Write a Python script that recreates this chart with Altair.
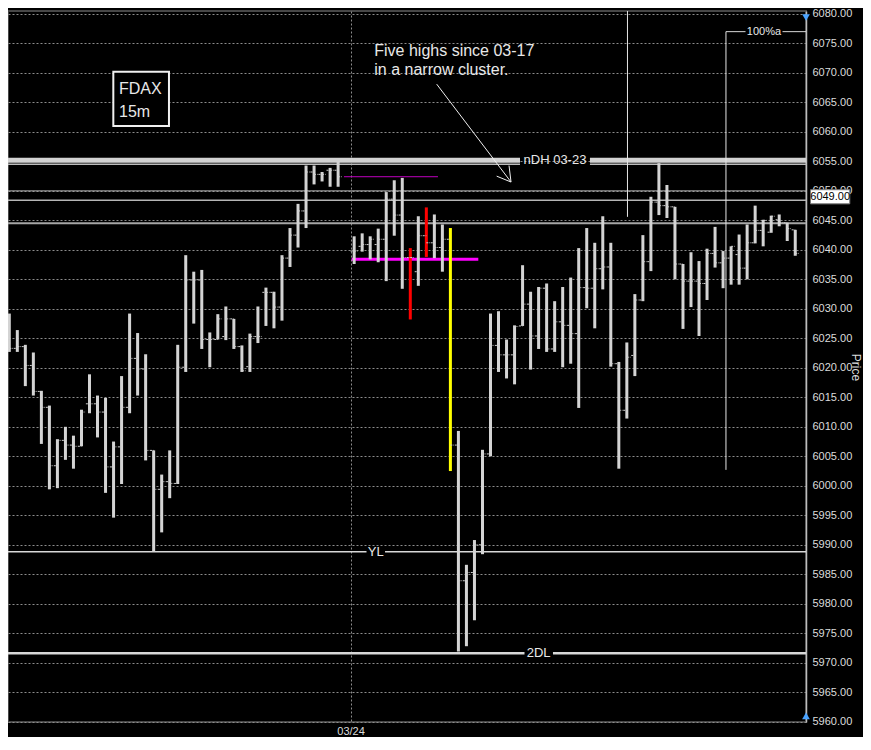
import altair as alt
import pandas as pd

# ---------------- data ----------------
bar_index = [0, 1, 2, 3, 4, 5, 6, 7, 8, 9, 10, 11, 12, 13, 14, 15, 16, 17, 18, 19,
             20, 21, 22, 23, 24, 25, 26, 27, 28, 29, 30, 31, 32, 33, 34, 35, 36, 37, 38, 39,
             40, 41, 43, 44, 45, 46, 47, 48, 49, 50, 51, 52, 53, 54, 55, 56, 57, 58, 59,
             60, 61, 62, 63, 64, 65, 66, 67, 68, 69, 70, 71, 72, 73, 74, 75, 76, 77, 78, 79,
             80, 81, 82, 83, 84, 85, 86, 87, 88, 89, 90, 91, 92, 93, 94, 95, 96, 97, 98]
opens = [6024.8, 6023.3, 6023.6, 6020.4, 6016.0, 6013.3, 6003.4, 6007.7, 6006.9, 6006.7,
         6013.9, 6013.9, 6012.5, 6003.2, 6006.6, 6013.3, 6021.6, 6019.8, 6006.0, 5999.4,
         6000.7, 6000.4, 6020.1, 6034.9, 6034.9, 6024.8, 6024.8, 6025.3, 6028.3, 6023.6,
         6020.2, 6025.3, 6032.8, 6032.8, 6030.3, 6038.6, 6042.5, 6046.6, 6053.2, 6052.8,
         6053.5, 6053.5, 6039.8, 6040.6, 6040.9, 6040.9, 6041.8, 6048.6, 6045.9,
         6038.7, 6036.3, 6042.4, 6041.2, 6040.4, 6041.8, 6006.9, 5983.9, 5985.3, 5990.0,
         6005.4, 6023.8, 6022.2, 6022.2, 6027.1, 6030.8, 6025.4, 6033.5, 6023.2, 6027.8,
         6027.2, 6025.8, 6033.6, 6033.5, 6036.8, 6037.1, 6020.7, 6012.8, 6022.1, 6031.5,
         6038.0, 6048.1, 6047.5, 6047.3, 6037.6, 6034.7, 6034.7, 6034.3, 6039.4, 6037.8,
         6038.6, 6039.2, 6036.9, 6041.2, 6043.3, 6043.0, 6045.1, 6044.6, 6043.4]
highs = [6029.2, 6026.4, 6023.9, 6022.6, 6016.1, 6013.6, 6007.9, 6010.0, 6008.5, 6012.9,
         6018.9, 6015.3, 6014.9, 6007.5, 6018.6, 6029.2, 6025.9, 6022.3, 6006.0, 6001.9,
         6006.0, 6023.9, 6039.1, 6036.3, 6036.6, 6026.0, 6029.1, 6030.4, 6028.3, 6023.8,
         6025.8, 6030.4, 6033.6, 6032.9, 6039.1, 6043.7, 6047.8, 6054.3, 6054.3, 6053.2,
         6053.9, 6055.2, 6042.3, 6042.8, 6042.3, 6043.6, 6049.8, 6051.8, 6052.2,
         6040.3, 6045.7, 6047.2, 6046.0, 6044.3, 6043.7, 6009.3, 5986.6, 5990.8, 6006.1,
         6029.2, 6029.6, 6024.8, 6027.2, 6037.4, 6032.9, 6033.7, 6034.3, 6031.3, 6033.7,
         6035.3, 6040.3, 6043.7, 6041.2, 6045.7, 6041.2, 6021.0, 6024.3, 6032.5, 6042.5,
         6049.0, 6054.7, 6051.0, 6047.3, 6037.6, 6039.6, 6038.1, 6040.2, 6043.9, 6039.8,
         6040.6, 6042.6, 6044.3, 6047.5, 6045.1, 6045.8, 6046.0, 6044.6, 6043.4]
lows = [6022.7, 6022.7, 6016.9, 6015.3, 6007.1, 5999.4, 5999.6, 6004.4, 6002.9, 6006.7,
        6012.3, 6008.2, 5998.8, 5994.6, 6000.3, 6012.3, 6015.3, 6004.3, 5988.8, 5992.1,
        5997.9, 6000.3, 6019.3, 6027.5, 6023.2, 6020.1, 6024.8, 6024.7, 6023.2, 6019.3,
        6019.3, 6024.2, 6027.1, 6026.7, 6028.0, 6037.1, 6040.4, 6043.7, 6051.1, 6051.6,
        6050.7, 6050.7, 6037.6, 6039.7, 6038.4, 6037.9, 6034.7, 6042.4, 6033.4,
        6028.2, 6033.9, 6038.8, 6038.6, 6036.3, 6002.5, 5971.9, 5972.8, 5977.2, 5988.4,
        6005.0, 6019.3, 6018.2, 6017.2, 6027.1, 6019.7, 6023.2, 6022.7, 6022.7, 6020.1,
        6020.7, 6013.2, 6030.1, 6026.7, 6033.3, 6020.2, 6002.9, 6011.4, 6018.6, 6031.3,
        6036.4, 6045.9, 6045.4, 6035.0, 6026.6, 6030.3, 6025.4, 6031.5, 6037.0, 6033.5,
        6034.1, 6034.1, 6035.0, 6041.1, 6040.6, 6042.9, 6044.0, 6041.5, 6039.0]
closes = [6023.3, 6023.6, 6020.4, 6016.0, 6013.3, 6003.4, 6007.7, 6006.9, 6006.7, 6012.5,
          6013.9, 6012.5, 6003.2, 6006.6, 6013.3, 6021.6, 6019.8, 6006.0, 5999.4, 6000.7,
          6000.4, 6020.1, 6034.9, 6034.9, 6024.8, 6024.8, 6028.3, 6028.3, 6023.6, 6019.5,
          6025.3, 6025.3, 6032.8, 6030.3, 6038.6, 6042.5, 6046.6, 6053.2, 6052.8, 6052.8,
          6053.5, 6052.4, 6039.8, 6040.9, 6041.8, 6041.8, 6048.6, 6045.9, 6038.7,
          6038.7, 6042.4, 6041.2, 6040.4, 6041.8, 6006.9, 5983.9, 5985.3, 5990.0, 6005.4,
          6023.8, 6022.2, 6022.2, 6027.0, 6030.8, 6025.4, 6033.5, 6023.2, 6027.8, 6027.2,
          6025.8, 6033.6, 6033.5, 6036.8, 6037.1, 6020.7, 6012.8, 6021.8, 6031.5, 6038.0,
          6048.1, 6047.5, 6047.3, 6037.6, 6034.7, 6034.7, 6034.3, 6039.4, 6037.8, 6038.6,
          6040.6, 6036.9, 6041.2, 6043.3, 6045.0, 6045.7, 6044.6, 6043.6, 6039.4]
highlight_red = [50, 52]
highlight_yellow = [55]

# horizontal level lines: price, segments (start, end index), colour, width
levels = [
    (6055.2, [(-0.162, 63.68), (72.4, 99.34)], "#d2d2d2", 5),
    (6054.5, [(-0.162, 63.68), (72.4, 99.34)], "#bdbdbd", 1.5),
    (6050.0, [(-0.162, 99.34)], "#b5b5b5", 1),
    (6048.4, [(-0.162, 99.34)], "#b5b5b5", 1.5),
    (6044.5, [(-0.162, 99.34)], "#a6a6a6", 2),
    (5988.8, [(-0.162, 44.54), (46.85, 99.34)], "#d8d8d8", 1.5),
    (5971.6, [(-0.162, 64.24), (67.79, 99.34)], "#d8d8d8", 2.5),
    (6077.0, [(89.36, 91.8), (96.41, 99.34)], "#d8d8d8", 1),
    (6052.4, [(41.73, 53.45)], "#c000c0", 1),
    (6038.4, [(42.69, 58.48)], "#ff00ff", 3),
]
verticals = [(77.08, 6045.6, 6080.5), (89.36, 6002.7, 6077.0)]
arrow_segments = [((53.29, 6068.1), (62.56, 6051.5)),
                  ((62.56, 6051.5), (60.77, 6052.5)),
                  ((62.56, 6051.5), (62.31, 6054.3))]
center_labels = [("nDH 03-23", 68.04, 6055.2, 13), ("YL", 45.7, 5988.8, 13),
                 ("2DL", 66.0, 5971.6, 13), ("100%a", 94.1, 6077.0, 11)]
left_labels = [("Five highs since 03-17", 45.51, 6072.85, 16),
               ("in a narrow cluster.", 45.51, 6069.68, 16),
               ("FDAX", 13.68, 6066.5, 16), ("15m", 13.68, 6062.6, 16)]
fdax_box = (12.97, 19.91, 6070.2, 6061.0)
last_price = 6049.0

# ---------------- build tables ----------------
cols = []
for i in bar_index:
    cols.append("#ff0000" if i in highlight_red else "#ffff00" if i in highlight_yellow else "#d4d4d4")
bars = pd.DataFrame({"i": bar_index, "open": opens, "high": highs, "low": lows,
                     "close": closes, "col": cols})
bars["ol"] = bars["i"] - 0.45
bars["cr"] = bars["i"] + 0.45

lv_rows = []
for p, segs, c, w in levels:
    for a, b in segs:
        lv_rows.append({"x": a, "x2": b, "y": p, "c": c, "w": w})
lv = pd.DataFrame(lv_rows)
vt = pd.DataFrame([{"x": x, "y": a, "y2": b} for x, a, b in verticals])
ar = pd.DataFrame([{"x": a[0], "y": a[1], "x2": b[0], "y2": b[1]} for a, b in arrow_segments])
ct = pd.DataFrame([{"t": t, "x": x, "y": y, "s": s} for t, x, y, s in center_labels])
lt = pd.DataFrame([{"t": t, "x": x, "y": y, "s": s} for t, x, y, s in left_labels])
bx = pd.DataFrame([{"x": fdax_box[0], "x2": fdax_box[1], "y": fdax_box[2], "y2": fdax_box[3]}])
pl = pd.DataFrame([{"x": 99.9, "x2": 104.8, "y": last_price + 1.2, "y2": last_price - 1.2,
                    "xc": 102.35, "yc": last_price, "t": f"{last_price:.2f}"}])
tri = pd.DataFrame([{"x": 99.34, "y": 6079.4, "sh": "triangle-down"},
                    {"x": 99.34, "y": 5961.0, "sh": "triangle-up"}])

# ---------------- scales / axes ----------------
W, H = 798, 711
FONT = "Liberation Sans, Arial, sans-serif"
xscale = alt.Scale(domain=[-0.162, 99.34], nice=False, zero=False)
yscale = alt.Scale(domain=[5959.95, 6080.5], nice=False, zero=False)
xaxis = alt.Axis(values=[42.55], labelExpr="'03/24'", grid=True, gridColor="#8c8c8c",
                 gridDash=[2, 2], domain=False, ticks=False, labelColor="#dcdcdc",
                 labelFont=FONT, labelFontSize=11, labelPadding=3, labelFlush=False,
                 title=None)
yaxis = alt.Axis(orient="right", values=list(range(5960, 6081, 5)), format=".2f",
                 grid=True, gridColor="#8c8c8c", gridDash=[2, 2], domain=True,
                 domainColor="#bdbdbd", domainWidth=1.5, ticks=False,
                 labelColor="#dcdcdc", labelFont=FONT, labelFontSize=11, labelPadding=6,
                 labelOverlap=False, labelFlush=False, title="Price", titleColor="#dcdcdc",
                 titleFont=FONT, titleFontSize=12, titleFontWeight="normal",
                 titleAngle=90, titleX=49, titleY=356, titleAlign="center",
                 titleBaseline="middle")


def X(f):
    return alt.X(f, type="quantitative", scale=xscale, axis=xaxis)


def Y(f):
    return alt.Y(f, type="quantitative", scale=yscale, axis=yaxis)


# ---------------- layers ----------------
level_layer = alt.Chart(lv).mark_rule().encode(
    x=X("x"), x2="x2", y=Y("y"),
    color=alt.Color("c:N", scale=None), strokeWidth=alt.StrokeWidth("w:Q", scale=None))
vert_layer = alt.Chart(vt).mark_rule(color="#e6e6e6", strokeWidth=1).encode(
    x=X("x"), y=Y("y"), y2="y2")
box_layer = alt.Chart(bx).mark_rect(fill="#000000", stroke="#f0f0f0", strokeWidth=2).encode(
    x=X("x"), x2="x2", y=Y("y"), y2="y2")
bar_layer = alt.Chart(bars).mark_rule(strokeWidth=3).encode(
    x=X("i"), y=Y("low"), y2="high", color=alt.Color("col:N", scale=None))
open_layer = alt.Chart(bars).mark_rule(strokeWidth=1, strokeDash=[2, 1], color="#cfcfcf").encode(
    x=X("ol"), x2="i", y=Y("open"))
close_layer = alt.Chart(bars).mark_rule(strokeWidth=1, strokeDash=[2, 1], color="#cfcfcf").encode(
    x=X("i"), x2="cr", y=Y("close"))
arrow_layer = alt.Chart(ar).mark_rule(color="#eeeeee", strokeWidth=1).encode(
    x=X("x"), x2="x2", y=Y("y"), y2="y2")
ctext = alt.Chart(ct).mark_text(align="center", baseline="middle", color="#e8e8e8",
                                font=FONT).encode(
    x=X("x"), y=Y("y"), text="t:N", size=alt.Size("s:Q", scale=None))
ltext = alt.Chart(lt).mark_text(align="left", baseline="alphabetic", color="#e8e8e8",
                                font=FONT).encode(
    x=X("x"), y=Y("y"), text="t:N", size=alt.Size("s:Q", scale=None))
pl_box = alt.Chart(pl).mark_rect(fill="#ffffff", stroke="#777777", strokeWidth=1).encode(
    x=X("x"), x2="x2", y=Y("y"), y2="y2")
pl_text = alt.Chart(pl).mark_text(align="center", baseline="middle", color="#000000",
                                  font=FONT, fontSize=11).encode(
    x=X("xc"), y=Y("yc"), text="t:N")
tri_layer = alt.Chart(tri).mark_point(filled=True, size=60, opacity=1, color="#4aa3ff").encode(
    x=X("x"), y=Y("y"), shape=alt.Shape("sh:N", scale=None))

chart = alt.layer(
    level_layer, vert_layer, box_layer, bar_layer, open_layer, close_layer,
    arrow_layer, ctext, ltext, pl_box, pl_text, tri_layer
).properties(
    width=W, height=H,
    autosize=alt.AutoSizeParams(type="none"),
    padding={"left": 0, "top": 3, "right": 57, "bottom": 15},
).configure(background="#000000").configure_view(stroke="#474747", strokeWidth=2)

chart.save("out.html", embed_options={"renderer": "svg", "actions": False})
